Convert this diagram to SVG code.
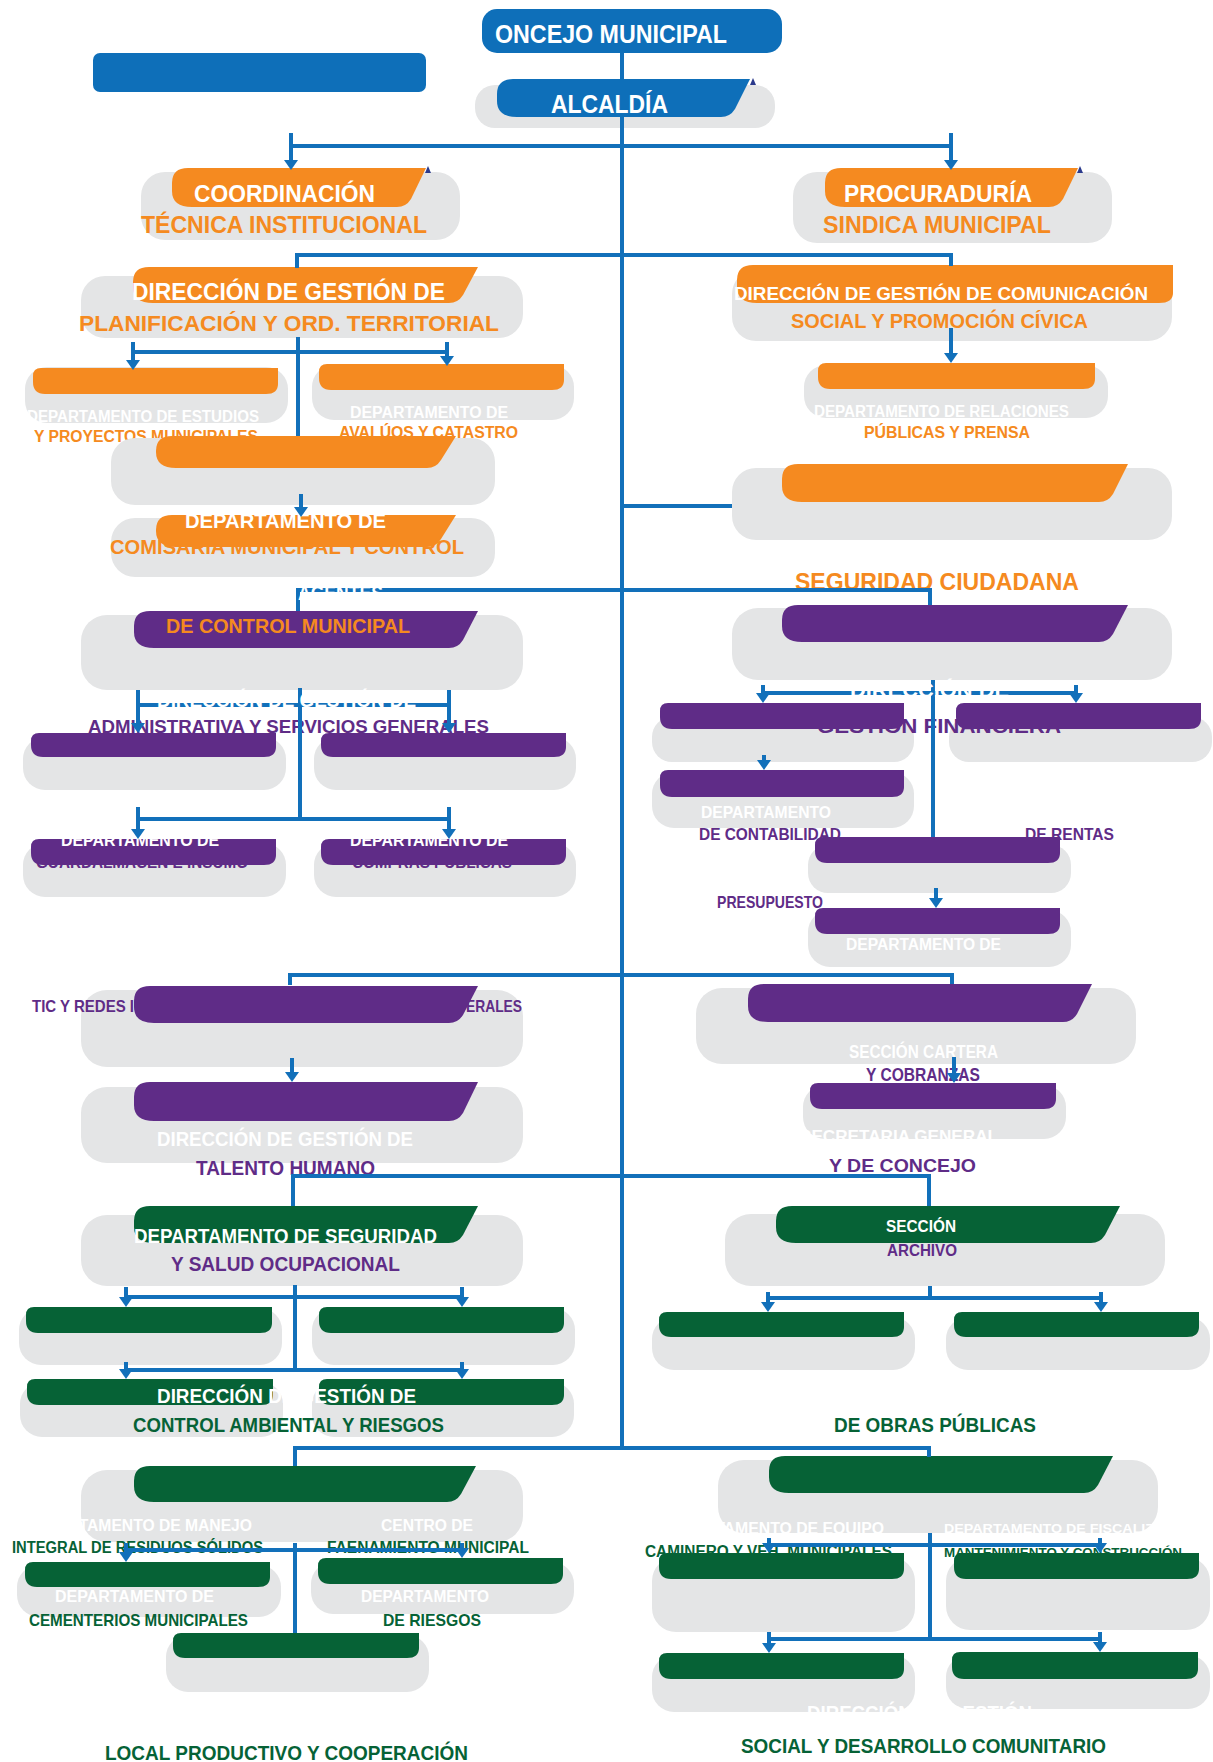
<svg xmlns="http://www.w3.org/2000/svg" width="1213" height="1762" viewBox="0 0 1213 1762">
<style>
.g{fill:#E4E5E6}
.bl{fill:#0E6FB9}
.or{fill:#F58A20}
.pu{fill:#5F2C87}
.gr{fill:#066236}
.c{stroke:#1270BA;stroke-width:4;fill:none}
.a{marker-end:url(#ah)}
text{font-family:"Liberation Sans Narrow","Liberation Sans",Arial,sans-serif;font-weight:bold}
.tw{fill:#FFFFFF}.to{fill:#F58A20}.tp{fill:#5F2C87}.tg{fill:#066236}
.mk{fill:#2B3A8C}
</style>
<defs>
<marker id="ah" markerUnits="userSpaceOnUse" markerWidth="14" markerHeight="14" viewBox="0 -7 14 14" refX="4" refY="0" orient="auto">
<path d="M0,-7 L10,0 L0,7 Z" fill="#1270BA"/>
</marker>
</defs>
<rect width="1213" height="1762" fill="#FFFFFF"/>

<g id="blank-blue"><rect class="bl" x="93" y="53" width="333" height="39" rx="7"/></g>

<g id="concejo"><rect class="bl" x="482" y="9" width="300" height="44" rx="15"/>
<text class="tw" x="495" y="43" font-size="25" textLength="232" lengthAdjust="spacingAndGlyphs">ONCEJO MUNICIPAL</text></g>

<g id="alcaldia"><rect class="g" x="475" y="85" width="300" height="43" rx="20"/>
<path class="bl" d="M513,79 H750 l-15,30 q-5,8 -14,8 H517 q-20,0 -20,-16 v-7 q0,-15 16,-15 Z"/>
<polygon class="mk" points="750,85 753,78 756,85"/>
<text class="tw" x="551" y="113" font-size="25" textLength="117" lengthAdjust="spacingAndGlyphs">ALCALDÍA</text></g>

<g id="coordinacion"><rect class="g" x="141" y="172" width="319" height="68" rx="24"/>
<path class="or" d="M188,168 H426 l-15,31 q-5,8 -14,8 H192 q-20,0 -20,-16 v-8 q0,-15 16,-15 Z"/>
<polygon class="mk" points="425,173 428,166 431,173"/>
<text class="tw" x="194" y="202" font-size="24" textLength="181" lengthAdjust="spacingAndGlyphs">COORDINACIÓN</text>
<text class="to" x="141" y="233" font-size="23" textLength="286" lengthAdjust="spacingAndGlyphs">TÉCNICA INSTITUCIONAL</text></g>

<g id="procuraduria"><rect class="g" x="793" y="172" width="319" height="71" rx="24"/>
<path class="or" d="M841,168 H1078 l-15,31 q-5,8 -14,8 H845 q-20,0 -20,-16 v-8 q0,-15 16,-15 Z"/>
<polygon class="mk" points="1077,173 1080,166 1083,173"/>
<text class="tw" x="844" y="202" font-size="24" textLength="188" lengthAdjust="spacingAndGlyphs">PROCURADURÍA</text>
<text class="to" x="823" y="233" font-size="23" textLength="228" lengthAdjust="spacingAndGlyphs">SINDICA MUNICIPAL</text></g>

<g id="dir-planificacion"><rect class="g" x="81" y="276" width="442" height="62" rx="24"/>
<path class="or" d="M149,267 H478 l-15,28 q-5,8 -14,8 H153 q-20,0 -20,-16 v-5 q0,-15 16,-15 Z"/>
<text class="tw" x="132" y="300" font-size="23" textLength="313" lengthAdjust="spacingAndGlyphs">DIRECCIÓN DE GESTIÓN DE</text>
<text class="to" x="79" y="331" font-size="22" textLength="420" lengthAdjust="spacingAndGlyphs">PLANIFICACIÓN Y ORD. TERRITORIAL</text></g>

<g id="dir-comunicacion"><rect class="g" x="732" y="270" width="440" height="71" rx="24"/>
<path class="or" d="M753,265 H1173 V293 q0,10 -14,10 H757 q-20,0 -20,-16 v-7 q0,-15 16,-15 Z"/>
<text class="tw" x="734" y="300" font-size="19" textLength="414" lengthAdjust="spacingAndGlyphs">DIRECCIÓN DE GESTIÓN DE COMUNICACIÓN</text>
<text class="to" x="791" y="328" font-size="19.5" textLength="297" lengthAdjust="spacingAndGlyphs">SOCIAL Y PROMOCIÓN CÍVICA</text></g>

<g id="dep-estudios"><rect class="g" x="25" y="367" width="263" height="56" rx="22"/>
<path class="or" d="M41,368 H278 V384 q0,10 -12,10 H45 q-12,0 -12,-12 V376 q0,-8 8,-8 Z"/>
<text class="tw" x="27" y="422" font-size="16" textLength="232" lengthAdjust="spacingAndGlyphs">DEPARTAMENTO DE ESTUDIOS</text>
<text class="to" x="34" y="442" font-size="16" textLength="224" lengthAdjust="spacingAndGlyphs">Y PROYECTOS MUNICIPALES</text></g>

<g id="dep-avaluos"><rect class="g" x="312" y="365" width="262" height="55" rx="22"/>
<path class="or" d="M327,364 H564 V380 q0,10 -12,10 H331 q-12,0 -12,-12 V372 q0,-8 8,-8 Z"/>
<text class="tw" x="350" y="418" font-size="16" textLength="158" lengthAdjust="spacingAndGlyphs">DEPARTAMENTO DE</text>
<text class="to" x="339" y="438" font-size="16" textLength="179" lengthAdjust="spacingAndGlyphs">AVALÚOS Y CATASTRO</text></g>

<g id="dep-relaciones"><rect class="g" x="804" y="365" width="304" height="53" rx="22"/>
<path class="or" d="M826,363 H1095 V379 q0,10 -12,10 H830 q-12,0 -12,-12 V371 q0,-8 8,-8 Z"/>
<text class="tw" x="814" y="417" font-size="16" textLength="255" lengthAdjust="spacingAndGlyphs">DEPARTAMENTO DE RELACIONES</text>
<text class="to" x="864" y="438" font-size="16.5" textLength="166" lengthAdjust="spacingAndGlyphs">PÚBLICAS Y PRENSA</text></g>

<g id="orange-left-blank"><rect class="g" x="111" y="438" width="384" height="67" rx="24"/>
<path class="or" d="M172,436 H456 l-15,24 q-5,8 -14,8 H176 q-20,0 -20,-16 v-1 q0,-15 16,-15 Z"/></g>

<g id="orange-right-blank"><rect class="g" x="732" y="468" width="440" height="72" rx="24"/>
<path class="or" d="M798,464 H1128 l-15,30 q-5,8 -14,8 H802 q-20,0 -20,-16 v-7 q0,-15 16,-15 Z"/></g>

<g id="dep-comisaria"><rect class="g" x="111" y="518" width="384" height="59" rx="24"/>
<path class="or" d="M172,515 H456 l-15,24 q-5,8 -14,8 H176 q-20,0 -20,-16 v-1 q0,-15 16,-15 Z"/>
<text class="tw" x="185" y="528" font-size="20" textLength="201" lengthAdjust="spacingAndGlyphs">DEPARTAMENTO DE</text>
<text class="to" x="110" y="554" font-size="20" textLength="354" lengthAdjust="spacingAndGlyphs">COMISARIA MUNICIPAL Y CONTROL</text></g>

<g id="seguridad-ciudadana"><text class="to" x="795" y="590" font-size="23" textLength="284" lengthAdjust="spacingAndGlyphs">SEGURIDAD CIUDADANA</text></g>

<g id="control-municipal"><rect class="g" x="81" y="615" width="442" height="75" rx="26"/>
<path class="pu" d="M150,611 H478 l-15,29 q-5,8 -14,8 H154 q-20,0 -20,-16 v-6 q0,-15 16,-15 Z"/>
<text class="to" x="166" y="633" font-size="21" textLength="244" lengthAdjust="spacingAndGlyphs">DE CONTROL MUNICIPAL</text></g>

<g id="dir-financiera"><rect class="g" x="732" y="608" width="440" height="72" rx="26"/>
<path class="pu" d="M798,605 H1128 l-15,29 q-5,8 -14,8 H802 q-20,0 -20,-16 v-6 q0,-15 16,-15 Z"/></g>

<g id="admin-text"><text class="tp" x="88" y="733" font-size="18" textLength="401" lengthAdjust="spacingAndGlyphs">ADMINISTRATIVA Y SERVICIOS GENERALES</text></g>

<g id="purple-l1"><rect class="g" x="23" y="737" width="263" height="53" rx="22"/>
<path class="pu" d="M39,733 H276 V747 q0,10 -12,10 H43 q-12,0 -12,-12 V741 q0,-8 8,-8 Z"/></g>
<g id="purple-r1"><rect class="g" x="314" y="737" width="262" height="53" rx="22"/>
<path class="pu" d="M329,733 H566 V747 q0,10 -12,10 H333 q-12,0 -12,-12 V741 q0,-8 8,-8 Z"/></g>

<g id="dep-guardalmacen"><rect class="g" x="23" y="843" width="263" height="54" rx="22"/>
<text class="tp" x="36" y="868" font-size="16" textLength="212" lengthAdjust="spacingAndGlyphs">GUARDALMACEN E INSUMO</text>
<path class="pu" d="M39,839 H276 V855 q0,10 -12,10 H43 q-12,0 -12,-12 V847 q0,-8 8,-8 Z"/>
<text class="tw" x="61" y="846" font-size="16" textLength="158" lengthAdjust="spacingAndGlyphs">DEPARTAMENTO DE</text></g>

<g id="dep-compras"><rect class="g" x="314" y="843" width="262" height="54" rx="22"/>
<text class="tp" x="352" y="868" font-size="16" textLength="160" lengthAdjust="spacingAndGlyphs">COMPRAS PUBLICAS</text>
<path class="pu" d="M329,839 H566 V855 q0,10 -12,10 H333 q-12,0 -12,-12 V847 q0,-8 8,-8 Z"/>
<text class="tw" x="350" y="846" font-size="16" textLength="158" lengthAdjust="spacingAndGlyphs">DEPARTAMENTO DE</text></g>

<g id="fin-l"><rect class="g" x="652" y="717" width="262" height="45" rx="20"/>
<path class="pu" d="M668,703 H904 V719 q0,10 -12,10 H672 q-12,0 -12,-12 V711 q0,-8 8,-8 Z"/></g>
<g id="fin-r"><rect class="g" x="949" y="717" width="263" height="45" rx="20"/>
<path class="pu" d="M964,703 H1201 V719 q0,10 -12,10 H968 q-12,0 -12,-12 V711 q0,-8 8,-8 Z"/></g>
<g id="fin-text"><text class="tp" x="817" y="733" font-size="21" textLength="244" lengthAdjust="spacingAndGlyphs">GESTIÓN FINANCIERA</text></g>

<g id="dep-contabilidad"><rect class="g" x="652" y="772" width="262" height="56" rx="22"/>
<path class="pu" d="M668,770 H904 V787 q0,10 -12,10 H672 q-12,0 -12,-12 V778 q0,-8 8,-8 Z"/>
<text class="tw" x="701" y="818" font-size="17" textLength="130" lengthAdjust="spacingAndGlyphs">DEPARTAMENTO</text>
<text class="tp" x="699" y="840" font-size="16.5" textLength="142" lengthAdjust="spacingAndGlyphs">DE CONTABILIDAD</text></g>

<g id="rentas-text"><text class="tp" x="1025" y="840" font-size="16.5" textLength="89" lengthAdjust="spacingAndGlyphs">DE RENTAS</text></g>

<g id="purple-presup-top"><rect class="g" x="808" y="845" width="263" height="48" rx="20"/>
<path class="pu" d="M823,837 H1060 V853 q0,10 -12,10 H827 q-12,0 -12,-12 V845 q0,-8 8,-8 Z"/></g>

<g id="presupuesto-text"><text class="tp" x="717" y="908" font-size="16.5" textLength="106" lengthAdjust="spacingAndGlyphs">PRESUPUESTO</text></g>

<g id="dep-presupuesto"><rect class="g" x="808" y="910" width="263" height="57" rx="22"/>
<path class="pu" d="M823,908 H1060 V924 q0,10 -12,10 H827 q-12,0 -12,-12 V916 q0,-8 8,-8 Z"/>
<text class="tw" x="846" y="950" font-size="16" textLength="155" lengthAdjust="spacingAndGlyphs">DEPARTAMENTO  DE</text></g>

<g id="tic"><rect class="g" x="81" y="990" width="442" height="77" rx="26"/>
<text class="tp" x="32" y="1012" font-size="16.5" textLength="102" lengthAdjust="spacingAndGlyphs">TIC Y REDES I</text>
<text class="tp" x="466" y="1012" font-size="16.5" textLength="56" lengthAdjust="spacingAndGlyphs">ERALES</text>
<path class="pu" d="M150,986 H478 l-15,29 q-5,8 -14,8 H154 q-20,0 -20,-16 v-6 q0,-15 16,-15 Z"/></g>

<g id="cartera"><rect class="g" x="696" y="988" width="440" height="76" rx="26"/>
<path class="pu" d="M764,984 H1092 l-15,30 q-5,8 -14,8 H768 q-20,0 -20,-16 v-7 q0,-15 16,-15 Z"/>
<text class="tw" x="849" y="1058" font-size="17.5" textLength="149" lengthAdjust="spacingAndGlyphs">SECCIÓN CARTERA</text>
<text class="tp" x="866" y="1081" font-size="17.5" textLength="114" lengthAdjust="spacingAndGlyphs">Y COBRANZAS</text></g>

<g id="talento"><rect class="g" x="81" y="1087" width="442" height="76" rx="26"/>
<path class="pu" d="M150,1082 H478 l-15,31 q-5,8 -14,8 H154 q-20,0 -20,-16 v-8 q0,-15 16,-15 Z"/>
<text class="tw" x="157" y="1146" font-size="19.5" textLength="256" lengthAdjust="spacingAndGlyphs">DIRECCIÓN DE GESTIÓN DE</text>
<text class="tp" x="196" y="1175" font-size="19.5" textLength="179" lengthAdjust="spacingAndGlyphs">TALENTO HUMANO</text></g>

<g id="secretaria"><rect class="g" x="803" y="1085" width="263" height="54" rx="22"/>
<path class="pu" d="M818,1083 H1056 V1099 q0,10 -12,10 H822 q-12,0 -12,-12 V1091 q0,-8 8,-8 Z"/>
<text class="tw" x="800" y="1142" font-size="16.5" textLength="198" lengthAdjust="spacingAndGlyphs">SECRETARIA GENERAL</text>
<text class="tp" x="829" y="1172" font-size="18.5" textLength="147" lengthAdjust="spacingAndGlyphs">Y  DE CONCEJO</text></g>

<g id="seguridad-ocupacional"><rect class="g" x="81" y="1215" width="442" height="71" rx="26"/>
<path class="gr" d="M150,1206 H478 l-15,29 q-5,8 -14,8 H154 q-20,0 -20,-16 v-6 q0,-15 16,-15 Z"/>
<text class="tw" x="134" y="1243" font-size="20" textLength="303" lengthAdjust="spacingAndGlyphs">DEPARTAMENTO DE SEGURIDAD</text>
<text class="tp" x="171" y="1271" font-size="20" textLength="229" lengthAdjust="spacingAndGlyphs">Y SALUD OCUPACIONAL</text></g>

<g id="archivo"><rect class="g" x="725" y="1214" width="440" height="72" rx="26"/>
<path class="gr" d="M792,1206 H1120 l-15,29 q-5,8 -14,8 H796 q-20,0 -20,-16 v-6 q0,-15 16,-15 Z"/>
<text class="tw" x="886" y="1232" font-size="16.5" textLength="70" lengthAdjust="spacingAndGlyphs">SECCIÓN</text>
<text class="tp" x="887" y="1256" font-size="16.5" textLength="70" lengthAdjust="spacingAndGlyphs">ARCHIVO</text></g>

<g id="green-l1"><rect class="g" x="19" y="1308" width="263" height="57" rx="22"/>
<path class="gr" d="M34,1307 H272 V1323 q0,10 -12,10 H38 q-12,0 -12,-12 V1315 q0,-8 8,-8 Z"/></g>
<g id="green-r1"><rect class="g" x="312" y="1308" width="263" height="57" rx="22"/>
<path class="gr" d="M327,1307 H564 V1323 q0,10 -12,10 H331 q-12,0 -12,-12 V1315 q0,-8 8,-8 Z"/></g>
<g id="green-l2"><rect class="g" x="20" y="1382" width="263" height="55" rx="22"/>
<path class="gr" d="M35,1379 H273 V1395 q0,10 -12,10 H39 q-12,0 -12,-12 V1387 q0,-8 8,-8 Z"/></g>
<g id="green-r2"><rect class="g" x="312" y="1382" width="262" height="55" rx="22"/>
<path class="gr" d="M327,1379 H564 V1395 q0,10 -12,10 H331 q-12,0 -12,-12 V1387 q0,-8 8,-8 Z"/></g>
<g id="ambiental-text">
<text class="tw" x="157" y="1403" font-size="20" textLength="259" lengthAdjust="spacingAndGlyphs">DIRECCIÓN DE GESTIÓN DE</text>
<text class="tg" x="133" y="1432" font-size="20" textLength="311" lengthAdjust="spacingAndGlyphs">CONTROL AMBIENTAL Y RIESGOS</text></g>

<g id="archivo-l"><rect class="g" x="652" y="1317" width="263" height="53" rx="22"/>
<path class="gr" d="M667,1312 H904 V1327 q0,10 -12,10 H671 q-12,0 -12,-12 V1320 q0,-8 8,-8 Z"/></g>
<g id="archivo-r"><rect class="g" x="946" y="1317" width="264" height="53" rx="22"/>
<path class="gr" d="M962,1312 H1199 V1327 q0,10 -12,10 H966 q-12,0 -12,-12 V1320 q0,-8 8,-8 Z"/></g>
<g id="obras-text"><text class="tg" x="834" y="1432" font-size="20" textLength="202" lengthAdjust="spacingAndGlyphs">DE OBRAS PÚBLICAS</text></g>

<g id="green-big-left"><rect class="g" x="81" y="1470" width="442" height="72" rx="26"/>
<path class="gr" d="M150,1466 H476 l-15,28 q-5,8 -14,8 H154 q-20,0 -20,-16 v-5 q0,-15 16,-15 Z"/>
<text class="tw" x="25" y="1531" font-size="16" textLength="227" lengthAdjust="spacingAndGlyphs">DEPARTAMENTO DE MANEJO</text>
<text class="tg" x="12" y="1553" font-size="16" textLength="251" lengthAdjust="spacingAndGlyphs">INTEGRAL DE RESIDUOS SÓLIDOS</text>
<text class="tw" x="381" y="1531" font-size="16" textLength="92" lengthAdjust="spacingAndGlyphs">CENTRO DE</text>
<text class="tg" x="327" y="1553" font-size="16" textLength="202" lengthAdjust="spacingAndGlyphs">FAENAMIENTO MUNICIPAL</text></g>

<g id="green-big-right"><rect class="g" x="718" y="1460" width="440" height="73" rx="26"/>
<path class="gr" d="M785,1456 H1113 l-15,29 q-5,8 -14,8 H789 q-20,0 -20,-16 v-6 q0,-15 16,-15 Z"/>
<text class="tw" x="661" y="1534" font-size="16" textLength="223" lengthAdjust="spacingAndGlyphs">DEPARTAMENTO DE EQUIPO</text>
<text class="tg" x="645" y="1557" font-size="16" textLength="247" lengthAdjust="spacingAndGlyphs">CAMINERO Y VEH. MUNICIPALES</text>
<text class="tw" x="944" y="1533" font-size="13" textLength="256" lengthAdjust="spacingAndGlyphs">DEPARTAMENTO DE FISCALIZACIÓN</text>
<text class="tg" x="944" y="1557" font-size="13" textLength="238" lengthAdjust="spacingAndGlyphs">MANTENIMIENTO Y CONSTRUCCIÓN</text></g>

<g id="dep-cementerios"><rect class="g" x="17" y="1565" width="264" height="52" rx="22"/>
<path class="gr" d="M33,1562 H270 V1577 q0,10 -12,10 H37 q-12,0 -12,-12 V1570 q0,-8 8,-8 Z"/>
<text class="tw" x="55" y="1602" font-size="16" textLength="159" lengthAdjust="spacingAndGlyphs">DEPARTAMENTO DE</text>
<text class="tg" x="29" y="1626" font-size="17" textLength="219" lengthAdjust="spacingAndGlyphs">CEMENTERIOS MUNICIPALES</text></g>

<g id="dep-riesgos"><rect class="g" x="311" y="1562" width="263" height="52" rx="22"/>
<path class="gr" d="M326,1558 H563 V1574 q0,10 -12,10 H330 q-12,0 -12,-12 V1566 q0,-8 8,-8 Z"/>
<text class="tw" x="361" y="1602" font-size="16" textLength="128" lengthAdjust="spacingAndGlyphs">DEPARTAMENTO</text>
<text class="tg" x="383" y="1626" font-size="17" textLength="98" lengthAdjust="spacingAndGlyphs">DE RIESGOS</text></g>

<g id="green-bottom-center"><rect class="g" x="166" y="1635" width="263" height="57" rx="22"/>
<path class="gr" d="M181,1633 H419 V1648 q0,10 -12,10 H185 q-12,0 -12,-12 V1641 q0,-8 8,-8 Z"/></g>

<g id="obras-l1"><rect class="g" x="652" y="1557" width="263" height="75" rx="24"/>
<path class="gr" d="M667,1553 H904 V1569 q0,10 -12,10 H671 q-12,0 -12,-12 V1561 q0,-8 8,-8 Z"/></g>
<g id="obras-r1"><rect class="g" x="946" y="1557" width="264" height="73" rx="24"/>
<path class="gr" d="M962,1553 H1199 V1569 q0,10 -12,10 H966 q-12,0 -12,-12 V1561 q0,-8 8,-8 Z"/></g>
<g id="obras-l2"><rect class="g" x="652" y="1655" width="263" height="57" rx="22"/>
<path class="gr" d="M667,1653 H904 V1669 q0,10 -12,10 H671 q-12,0 -12,-12 V1661 q0,-8 8,-8 Z"/></g>
<g id="obras-r2"><rect class="g" x="946" y="1655" width="264" height="54" rx="22"/>
<path class="gr" d="M960,1652 H1198 V1669 q0,10 -12,10 H964 q-12,0 -12,-12 V1660 q0,-8 8,-8 Z"/></g>
<g id="bottom-texts">
<text class="tw" x="807" y="1720" font-size="20" textLength="225" lengthAdjust="spacingAndGlyphs">DIRECCIÓN DE GESTIÓN</text>
<text class="tg" x="741" y="1753" font-size="20" textLength="365" lengthAdjust="spacingAndGlyphs">SOCIAL Y DESARROLLO COMUNITARIO</text>
<text class="tg" x="105" y="1760" font-size="20" textLength="363" lengthAdjust="spacingAndGlyphs">LOCAL PRODUCTIVO Y COOPERACIÓN</text></g>

<g id="connectors">
<path class="c" d="M622,53 V79 M622,117 V1448"/>
<path class="c" d="M291,146 H951"/>
<path class="c a" d="M291,133 V164"/>
<path class="c a" d="M951,133 V164"/>
<path class="c" d="M297,268 V255 H951 V266"/>
<path class="c" d="M298,337 V436 M133,352 H447"/>
<path class="c a" d="M133,342 V364"/>
<path class="c a" d="M447,342 V360"/>
<path class="c a" d="M951,328 V357"/>
<path class="c a" d="M301,494 V511"/>
<path class="c" d="M622,506 H732" stroke-width="6"/>
<path class="c" d="M298,611 V590 H930 V605"/>
<path class="c" d="M300,688 V819 M138,705 H449 M138,819 H449"/>
<path class="c a" d="M138,690 V727"/>
<path class="c a" d="M449,690 V727"/>
<path class="c a" d="M138,807 V833"/>
<path class="c a" d="M449,807 V833"/>
<path class="c" d="M933,680 V837 M763,693 H1076"/>
<path class="c a" d="M763,685 V697"/>
<path class="c a" d="M1076,685 V697"/>
<path class="c a" d="M764,755 V764"/>
<path class="c a" d="M936,888 V902"/>
<path class="c" d="M290,985 V975 H952 V984"/>
<path class="c a" d="M954,1057 V1077"/>
<path class="c a" d="M292,1058 V1076"/>
<path class="c" d="M293,1206 V1176 H929 V1206"/>
<path class="c" d="M295,1285 V1370 M126,1297 H462 M126,1370 H462"/>
<path class="c a" d="M126,1287 V1301"/>
<path class="c a" d="M462,1287 V1301"/>
<path class="c a" d="M126,1362 V1373"/>
<path class="c a" d="M462,1362 V1373"/>
<path class="c" d="M930,1286 V1298 M768,1298 H1101"/>
<path class="c a" d="M768,1292 V1306"/>
<path class="c a" d="M1101,1292 V1306"/>
<path class="c" d="M295,1466 V1448 H929 V1457"/>
<path class="c" d="M295,1543 V1633 M126,1550 H462"/>
<path class="c a" d="M126,1543 V1556"/>
<path class="c a" d="M462,1543 V1552"/>
<path class="c" d="M930,1533 V1639 M769,1545 H1100 M769,1639 H1100"/>
<path class="c a" d="M769,1538 V1547"/>
<path class="c a" d="M1100,1538 V1547"/>
<path class="c a" d="M769,1632 V1647"/>
<path class="c a" d="M1100,1632 V1646"/>
</g>

<g id="overlay-texts">
<text class="tw" x="298" y="600" font-size="20" textLength="85" lengthAdjust="spacingAndGlyphs">AGENTES</text>
<text class="tw" x="157" y="707" font-size="20" textLength="259" lengthAdjust="spacingAndGlyphs">DIRECCIÓN DE GESTIÓN DE</text>
<text class="tw" x="850" y="697" font-size="20" textLength="159" lengthAdjust="spacingAndGlyphs">DIRECCIÓN DE</text>
</g>
</svg>
